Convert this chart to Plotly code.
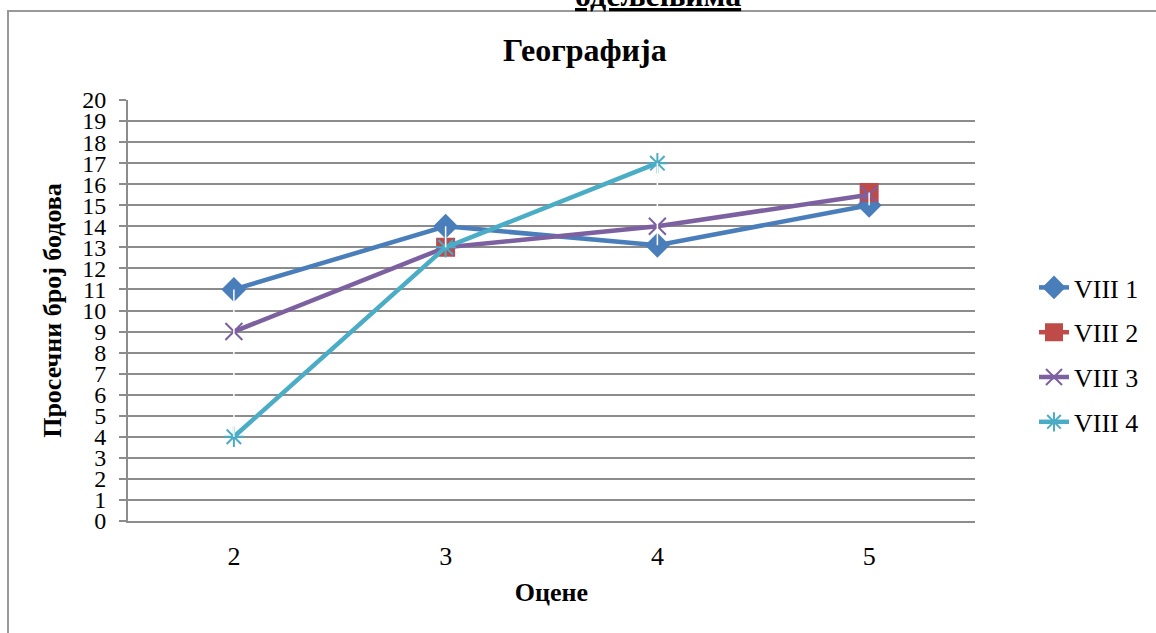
import plotly.graph_objects as go

categories = [2, 3, 4, 5]
series_names = ["VIII 1", "VIII 2", "VIII 3", "VIII 4"]
viii1 = [11, 14, 13.1, 15]
viii2 = [None, 13, None, 15.6]
viii3 = [9, 13, 14, 15.5]
viii4 = [4, 13, 17, None]
y_ticks = list(range(0, 21))

colors = ["#4A7EBB", "#BE4B48", "#7D60A0", "#4BACC6"]
symbols = ["diamond", "square", "x-thin-open", "asterisk-open"]
msizes = [17, 17, 17, 17]

FONT = "Liberation Serif, Times New Roman, serif"
GRID = "#8c8c8c"

fig = go.Figure()
all_series = [viii1, viii2, viii3, viii4]
for i, (name, vals) in enumerate(zip(series_names, all_series)):
    fig.add_trace(go.Scatter(
        x=categories, y=vals, name=name, mode="lines+markers",
        connectgaps=False,
        line=dict(color=colors[i], width=4.5),
        marker=dict(symbol=symbols[i], size=msizes[i], color=colors[i],
                    line=dict(color=colors[i], width=2)),
        legendgroup=name,
    ))

# high-low lines (white) between min and max at each category
hx, hy = [], []
for j, c in enumerate(categories):
    vals = [s[j] for s in all_series if s[j] is not None]
    if len(vals) > 1 and max(vals) > min(vals):
        hx += [c, c, None]
        hy += [min(vals), max(vals), None]
fig.add_trace(go.Scatter(x=hx, y=hy, mode="lines", showlegend=False,
                         hoverinfo="skip", line=dict(color="white", width=1.5)))

W, H = 1156, 633
L, R, T, B = 128, 181, 100, 112
pw, ph = W - L - R, H - T - B

def px_x(x):
    return (x - L) / pw

def px_y(y):
    return (H - B - y) / ph

fig.update_layout(
    width=W, height=H,
    margin=dict(l=L, r=R, t=T, b=B),
    paper_bgcolor="white", plot_bgcolor="white",
    font=dict(family=FONT, size=24, color="black"),
    showlegend=True,
    legend=dict(x=px_x(1034), y=px_y(355), xanchor="left", yanchor="middle",
                font=dict(family=FONT, size=26, color="black"),
                tracegroupgap=8, bgcolor="rgba(0,0,0,0)"),
    xaxis=dict(
        tickmode="array", tickvals=categories, ticktext=[str(c) for c in categories],
        range=[1.5, 5.5], showgrid=False, zeroline=False,
        showline=True, linecolor=GRID, linewidth=2, ticks="",
        tickfont=dict(family=FONT, size=26), ticklabelstandoff=11,
        title=dict(text="<b>Оцене</b>", font=dict(family=FONT, size=26), standoff=13),
    ),
    yaxis=dict(
        tickmode="array", tickvals=y_ticks, ticktext=[str(v) for v in y_ticks],
        range=[0, 20], showgrid=True, gridcolor=GRID, gridwidth=2, zeroline=False,
        showline=True, linecolor=GRID, linewidth=2,
        ticks="outside", ticklen=7, tickcolor=GRID, tickwidth=2,
        tickfont=dict(family=FONT, size=24), ticklabelstandoff=8,
        title=dict(text="<b>Просечни број бодова</b>", font=dict(family=FONT, size=26), standoff=13),
    ),
    annotations=[
        dict(text="<b>Географија</b>", xref="paper", yref="paper",
             x=px_x(585), y=px_y(50), xanchor="center", yanchor="middle",
             showarrow=False, font=dict(family=FONT, size=32, color="black")),
        dict(text="<b><u>одељењима</u></b>", xref="paper", yref="paper",
             x=px_x(658), y=px_y(-4.5), xanchor="center", yanchor="middle",
             showarrow=False, font=dict(family=FONT, size=32, color="black")),
    ],
    shapes=[
        dict(type="line", xref="paper", yref="paper",
             x0=px_x(7), x1=px_x(1160), y0=px_y(11), y1=px_y(11),
             line=dict(color="#999999", width=2)),
        dict(type="line", xref="paper", yref="paper",
             x0=px_x(8), x1=px_x(8), y0=px_y(11), y1=px_y(640),
             line=dict(color="#999999", width=2)),
    ],
)

fig.write_html("out.html", config={"displayModeBar": False},
               post_script="document.body.style.margin='0px';")
